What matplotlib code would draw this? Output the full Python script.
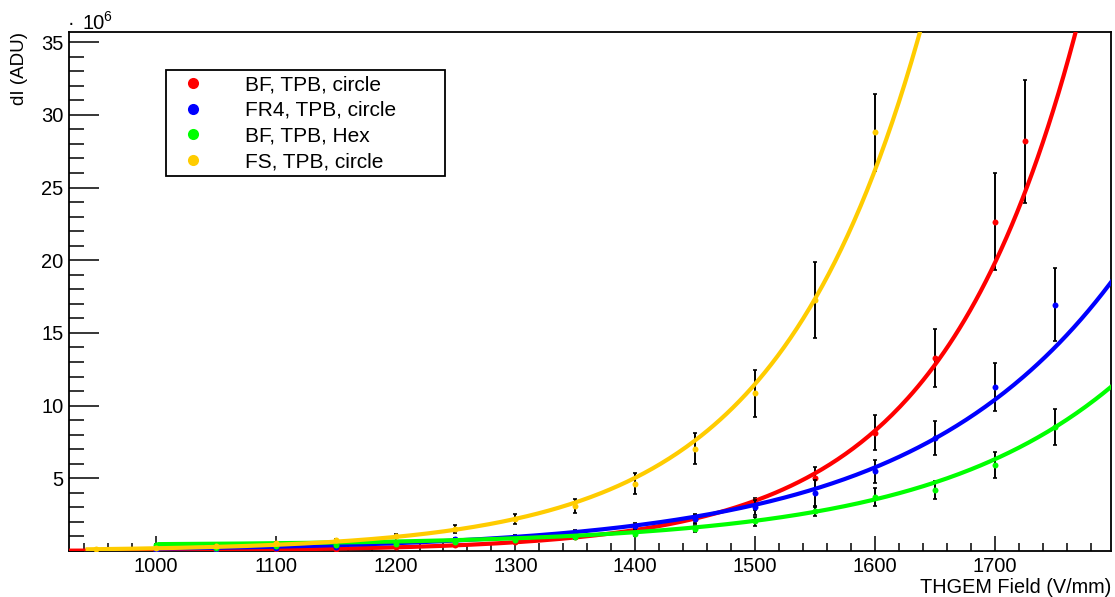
import matplotlib
matplotlib.use("Agg")
import matplotlib.pyplot as plt
import numpy as np
from matplotlib.lines import Line2D
from matplotlib.ticker import MultipleLocator

plt.rcParams['font.family'] = ['Liberation Sans', 'DejaVu Sans']

# THGEM field values (V/mm) and light yield dI in units of 1e6 ADU
x_red = [1000, 1050, 1100, 1150, 1200, 1250, 1300, 1350, 1400, 1450, 1500, 1550, 1600, 1650, 1700, 1725]
y_red = [0.05, 0.07, 0.11, 0.17, 0.30, 0.42, 0.62, 0.95, 1.45, 2.20, 3.25, 5.03, 8.14, 13.26, 22.66, 28.17]
e_red = [0.03, 0.03, 0.04, 0.05, 0.06, 0.08, 0.10, 0.14, 0.20, 0.30, 0.43, 0.75, 1.22, 2.00, 3.35, 4.25]

x_blue = [1000, 1050, 1100, 1150, 1200, 1250, 1300, 1350, 1400, 1450, 1500, 1550, 1600, 1650, 1700, 1750]
y_blue = [0.07, 0.12, 0.18, 0.27, 0.57, 0.82, 0.98, 1.32, 1.70, 2.19, 3.00, 3.97, 5.47, 7.77, 11.27, 16.94]
e_blue = [0.03, 0.03, 0.04, 0.05, 0.06, 0.08, 0.10, 0.15, 0.20, 0.35, 0.50, 0.90, 0.80, 1.17, 1.65, 2.50]

x_green = [1000, 1050, 1100, 1150, 1200, 1250, 1300, 1350, 1400, 1450, 1500, 1550, 1600, 1650, 1700, 1750]
y_green = [0.42, 0.23, 0.34, 0.41, 0.50, 0.60, 0.75, 0.94, 1.19, 1.51, 2.04, 2.72, 3.70, 4.20, 5.92, 8.55]
e_green = [0.03, 0.03, 0.04, 0.05, 0.05, 0.06, 0.08, 0.10, 0.13, 0.23, 0.30, 0.30, 0.60, 0.62, 0.90, 1.23]

x_yellow = [950, 1000, 1050, 1100, 1150, 1200, 1250, 1300, 1350, 1400, 1450, 1500, 1550, 1600]
y_yellow = [0.13, 0.18, 0.34, 0.55, 0.75, 1.05, 1.51, 2.19, 3.10, 4.64, 7.04, 10.86, 17.28, 28.80]
e_yellow = [0.03, 0.04, 0.05, 0.07, 0.10, 0.14, 0.25, 0.34, 0.49, 0.72, 1.06, 1.62, 2.63, 2.63]

# exponential fits: offset + amp * exp(slope * (x - 1700))
fit_offset = [0.0, 0.0, 0.4, 0.0]
fit_amp = [19.8, 10.4, 5.91, 59.7]
fit_slope = [0.00873, 0.00593, 0.0063, 0.00824]
fit_lo = [925, 1003, 1003, 943]
fit_hi = [1790, 1800, 1800, 1650]

labels = ['BF, TPB, circle', 'FR4, TPB, circle', 'BF, TPB, Hex', 'FS, TPB, circle']
colors = ['#ff0000', '#0000ff', '#00ff00', '#ffcc00']

W, H = 1115, 597
fig = plt.figure(figsize=(W / 100, H / 100), dpi=100)
ax = fig.add_axes([69 / W, 1 - 551 / H, (1111 - 69) / W, (551 - 32) / H])

series = [(x_red, y_red, e_red), (x_blue, y_blue, e_blue),
          (x_green, y_green, e_green), (x_yellow, y_yellow, e_yellow)]

for i, (xs, ys, es) in enumerate(series):
    z = 3 + i
    ax.errorbar(xs, ys, yerr=es, fmt='none', ecolor='black', elinewidth=1.4,
                capsize=1.5, capthick=1.2, zorder=z)
    ax.plot(xs, ys, 'o', color=colors[i], markersize=4.3, markeredgewidth=0, zorder=z)
    xf = np.linspace(fit_lo[i], fit_hi[i], 400)
    yf = fit_offset[i] + fit_amp[i] * np.exp(fit_slope[i] * (xf - 1700))
    ax.plot(xf, yf, '-', color=colors[i], linewidth=3.0, zorder=z + 0.5)

ax.set_xlim(927.5, 1797)
ax.set_ylim(0, 35.7)

ax.xaxis.set_major_locator(MultipleLocator(100))
ax.xaxis.set_minor_locator(MultipleLocator(20))
ax.set_yticks([5, 10, 15, 20, 25, 30, 35])
ax.yaxis.set_minor_locator(MultipleLocator(1))

ax.tick_params(axis='both', which='both', direction='in', top=False, right=False,
               labelsize=14.5, width=1.1)
ax.tick_params(axis='y', which='major', length=21.5, pad=4)
ax.tick_params(axis='y', which='minor', length=10.8)
ax.tick_params(axis='x', which='major', length=10.8, pad=4.5)
ax.tick_params(axis='x', which='minor', length=5.8)

for sp in ax.spines.values():
    sp.set_linewidth(1.3)

# axis titles and exponent, placed the way ROOT does it
fig.text(1111 / W, 4 / H, 'THGEM Field (V/mm)', ha='right', va='baseline', fontsize=14.3)
fig.text(19 / W, 1 - 32 / H, 'dI (ADU)', ha='center', va='top', rotation=90, fontsize=13.5)
fig.text(68 / W, 1 - 29 / H, '\u00b7', ha='left', va='baseline', fontsize=14.5)
fig.text(82 / W, 1 - 29 / H, '10', ha='left', va='baseline', fontsize=14.5)
fig.text(103 / W, 1 - 21 / H, '6', ha='left', va='baseline', fontsize=10)

handles = [Line2D([], [], linestyle='none', marker='o', markersize=8,
                  markeredgewidth=0, color=c) for c in colors]
leg = ax.legend(handles, labels, loc='upper left', mode='expand',
                bbox_to_anchor=(166 / W, 1 - 192 / H, (445 - 166) / W, (192 - 70) / H),
                bbox_transform=fig.transFigure, borderaxespad=0, fontsize=15,
                handlelength=2.1, handletextpad=1.44, borderpad=0.25,
                labelspacing=0.32, fancybox=False, framealpha=1, numpoints=1)
leg.get_frame().set_edgecolor('black')
leg.get_frame().set_linewidth(1.3)

fig.savefig('out.png', dpi=100)
